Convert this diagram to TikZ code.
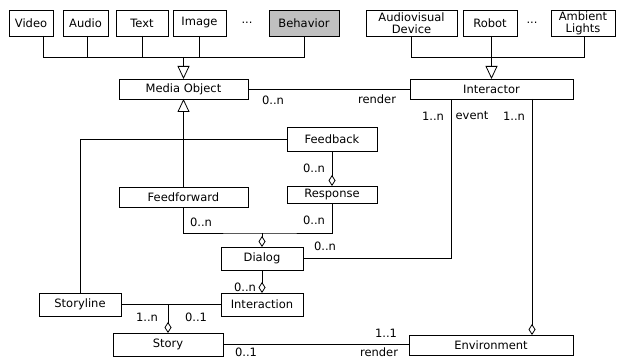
\documentclass[tikz,border=0pt]{standalone}
\usepackage{fontspec}
\setmainfont{DejaVu Sans}
\usetikzlibrary{arrows.meta}
\definecolor{behgray}{RGB}{192,192,192}
\begin{document}
\begin{tikzpicture}[x=1pt,y=-1pt,
  box/.style={draw, line width=0.8pt, anchor=north west, inner sep=0pt, outer sep=0pt,
    font=\fontsize{11.5}{12}\selectfont, align=center},
  lbl/.style={inner sep=0pt, font=\fontsize{11.5}{12}\selectfont},
  conn/.style={line width=0.8pt},
  inh/.style={conn, -{Triangle[open,width=12pt,length=13pt]}},
  agg/.style={conn, -{Diamond[open,width=7pt,length=11pt]}}]
\useasboundingbox (0,0) rectangle (617,358);
\clip (0,0) rectangle (617,358);

% top row
\node[box, minimum width=44pt, minimum height=26pt] (video) at (9,10) {Video};
\node[box, minimum width=45pt, minimum height=26pt] (audio) at (63,10) {Audio};
\node[box, minimum width=52pt, minimum height=26pt] (text) at (116,10) {Text};
\node[box, minimum width=53pt, minimum height=26pt] (image) at (173,10) {Image};
\node[lbl] (dots1) at (247,23) {...};
\node[box, fill=behgray, minimum width=70pt, minimum height=26pt] (behavior) at (269,10) {Behavior};
\node[box, minimum width=91pt, minimum height=26pt] (av) at (366,10) {Audiovisual\\Device};
\node[box, minimum width=54pt, minimum height=26pt] (robot) at (463,10) {Robot};
\node[lbl] (dots2) at (532,23) {...};
\node[box, minimum width=64pt, minimum height=26pt] (ambient) at (551,10) {Ambient\\Lights};

% main classes
\node[box, minimum width=129pt, minimum height=20pt] (media) at (119,79) {Media Object};
\node[box, minimum width=163pt, minimum height=20pt] (interactor) at (410,79) {Interactor};
\node[box, minimum width=90pt, minimum height=24pt] (feedback) at (287,127) {Feedback};
\node[box, minimum width=129pt, minimum height=20pt] (feedforward) at (119,187) {Feedforward};
\node[box, minimum width=90pt, minimum height=17pt] (response) at (287,186) {Response};
\node[box, minimum width=82pt, minimum height=23pt] (dialog) at (221,247) {Dialog};
\node[box, minimum width=82pt, minimum height=23pt] (interaction) at (221,293) {Interaction};
\node[box, minimum width=82pt, minimum height=23pt] (storyline) at (39,293) {Storyline};
\node[box, minimum width=110pt, minimum height=23pt] (story) at (113,333) {Story};
\node[box, minimum width=164pt, minimum height=20pt] (environment) at (409,335) {Environment};

% coordinates
\coordinate (lbarL) at (43,57);
\coordinate (lbarR) at (304,57);
\coordinate (audx) at (87,57);
\coordinate (avx) at (411,57);
\coordinate (ambx) at (584,57);
\coordinate (dj) at (262,233);
\coordinate (evx) at (451,258);
\coordinate (envx) at (532,200);

% media generalization
\draw[conn] (video.south -| lbarL) -- (lbarL) -- (lbarR) -- (behavior.south -| lbarR);
\draw[conn] (audio.south -| audx) -- (audx);
\draw[conn] (text.south) -- (text.south |- lbarL);
\draw[conn] (image.south) -- (image.south |- lbarL);
\draw[inh] (media.north |- lbarL) -- (media.north);

% interactor generalization
\draw[conn] (av.south -| avx) -- (avx) -- (ambx) -- (ambient.south -| ambx);
\draw[conn] (interactor.north |- robot.south) -- (interactor.north |- avx);
\draw[inh] (interactor.north |- avx) -- (interactor.north);

% render association
\draw[conn] (media.east) -- (interactor.west);
\node[lbl] (l1) at (273,100) {0..n};
\node[lbl] (l2) at (377,99) {render};

% inheritance of feedforward, feedback, storyline
\draw[inh] (feedforward.north) -- (media.south);
\draw[conn] (storyline.north) |- (feedback.west);

% feedback / response
\draw[agg] (feedback.south) -- (response.north);
\node[lbl] (l3) at (314,168) {0..n};

% dialog aggregation
\draw[conn] (feedforward.south) |- (dj) -| (response.south);
\draw[agg] (dialog.north |- dj) -- (dialog.north);
\node[lbl] (l4) at (201,222) {0..n};
\node[lbl] (l5) at (314,220) {0..n};

% dialog - interactor
\draw[conn] (dialog.east) -| (interactor.south -| evx);
\node[lbl] (l6) at (325,246) {0..n};
\node[lbl] (l7) at (433,116) {1..n};
\node[lbl] (l8) at (472,116) {event};

% interactor - environment
\draw[agg] (interactor.south -| envx) -- (environment.north -| envx);
\node[lbl] (l9) at (514,116) {1..n};

% dialog - interaction
\draw[agg] (dialog.south) -- (interaction.north);
\node[lbl] (l10) at (245,287) {0..n};

% storyline - interaction - story
\draw[conn] (storyline.east) -- (interaction.west);
\draw[agg] (story.north |- storyline.east) -- (story.north);
\node[lbl] (l11) at (147,317) {1..n};
\node[lbl] (l12) at (196,317) {0..1};

% story - environment
\draw[conn] (story.east) -- (environment.west |- story.east);
\node[lbl] (l13) at (386,333) {1..1};
\node[lbl] (l14) at (246,352) {0..1};
\node[lbl] (l15) at (379,352) {render};
\end{tikzpicture}
\end{document}
